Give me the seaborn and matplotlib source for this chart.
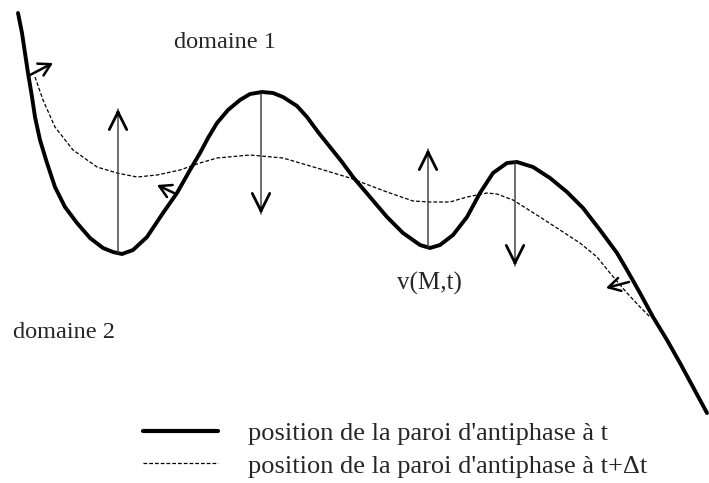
import matplotlib
matplotlib.use("Agg")
import matplotlib.pyplot as plt
import seaborn as sns
import numpy as np

sns.set_style("white")
plt.rcParams['font.family'] = ['Liberation Serif', 'DejaVu Serif']

# wall position at t (pixel coords, y downwards)
wall_t_x = [18, 22, 25, 28, 32, 35, 40, 47, 55, 65, 77, 90, 103, 113, 122, 133, 147, 163, 177, 190,
            200, 208, 217, 228, 240, 250, 262, 273, 283, 297, 307, 318, 330, 342, 353, 370, 387, 403,
            420, 430, 440, 453, 467, 480, 493, 507, 517, 533, 550, 567, 583, 600, 617, 627, 640, 653,
            667, 680, 693, 707]
wall_t_y = [13, 33, 53, 73, 97, 117, 140, 163, 187, 207, 223, 238, 248, 252, 254, 250, 237, 213, 193, 170,
            153, 138, 123, 110, 100, 94, 92, 93, 97, 106, 117, 132, 147, 162, 177, 197, 217, 233,
            245, 248, 245, 235, 217, 193, 173, 163, 162, 167, 178, 192, 208, 230, 253, 270, 293, 317,
            340, 363, 387, 413]

# wall position at t+dt
wall_dt_x = [35, 43, 55, 73, 97, 117, 137, 157, 180, 200, 217, 250, 283, 317, 350, 387, 413, 430, 450,
             467, 487, 497, 513, 540, 560, 580, 597, 610, 627, 640, 650]
wall_dt_y = [77, 100, 127, 150, 167, 173, 177, 175, 170, 163, 158, 155, 158, 168, 178, 192, 201, 202, 202,
             197, 193, 194, 200, 217, 230, 243, 257, 273, 293, 307, 317]

# normal velocity arrows (tail -> tip)
vel_tail = [(118, 253), (261, 93), (428, 248), (515, 162)]
vel_tip = [(118, 109), (261, 214), (428, 149), (515, 266)]

# small tangent arrows along the wall
tan_tail = [(30, 75), (174, 193), (629, 282)]
tan_tip = [(53, 63), (157, 185), (606, 288)]

lab_t = "position de la paroi d'antiphase à t"
lab_dt = "position de la paroi d'antiphase à t+\u0394t"

fig = plt.figure(figsize=(7.09, 4.83), dpi=100)
ax = fig.add_axes([0, 0, 1, 1])

sns.lineplot(x=wall_t_x, y=wall_t_y, sort=False, ax=ax, color='black', lw=2.8,
             label=lab_t, estimator=None)
line_t = ax.lines[-1]
line_t.set_solid_joinstyle('round')
line_t.set_solid_capstyle('round')
sns.lineplot(x=wall_dt_x, y=wall_dt_y, sort=False, ax=ax, color='black', lw=0.9,
             dashes=(3, 1.6), label=lab_dt, estimator=None)

for (x0, y0), (x1, y1) in zip(vel_tail, vel_tip):
    ax.annotate('', xy=(x1, y1), xytext=(x0, y0),
                arrowprops=dict(arrowstyle='-', lw=1.0, color='#333333', shrinkA=0, shrinkB=0))
    d = np.sign(y1 - y0)
    ax.annotate('', xy=(x1, y1), xytext=(x1, y1 - 6 * d),
                arrowprops=dict(arrowstyle='->,head_length=0.9,head_width=0.45', lw=2.0,
                                color='black', shrinkA=0, shrinkB=0, mutation_scale=14))

for (x0, y0), (x1, y1) in zip(tan_tail, tan_tip):
    ax.annotate('', xy=(x1, y1), xytext=(x0, y0),
                arrowprops=dict(arrowstyle='->,head_length=0.7,head_width=0.4', lw=1.8,
                                color='black', shrinkA=0, shrinkB=0, mutation_scale=12))

ax.text(225, 42, "domaine 1", fontsize=17.5, ha='center', va='center')
ax.text(13, 332, "domaine 2", fontsize=17.5, ha='left', va='center')
ax.text(429, 283, "v(M,t)", fontsize=18, ha='center', va='center')

leg = ax.legend(loc='upper left', bbox_to_anchor=(143 / 709, 1 - 422 / 483), frameon=False,
                fontsize=19, handlelength=2.84, handletextpad=1.14, labelspacing=0.33,
                borderpad=0, borderaxespad=0)
leg.get_lines()[0].set_linewidth(3.0)

ax.set_xlim(0, 709)
ax.set_ylim(483, 0)
ax.axis('off')
fig.savefig("out.png", dpi=100)
